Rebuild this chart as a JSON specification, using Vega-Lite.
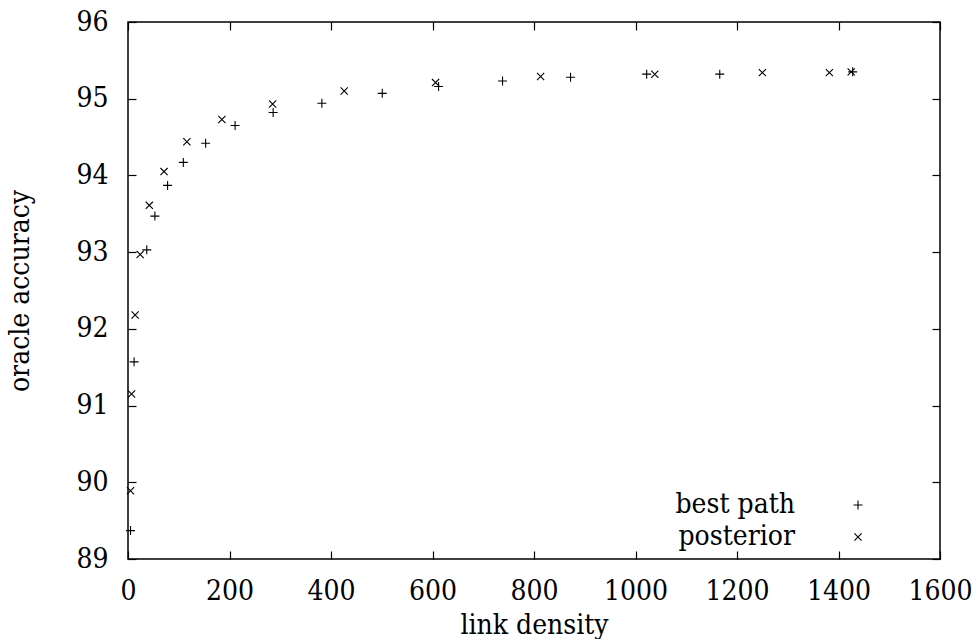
{
  "$schema": "https://vega.github.io/schema/vega-lite/v6.json",
  "width": 812,
  "height": 537,
  "autosize": {"type": "none"},
  "padding": {"left": 128, "top": 22, "right": 35, "bottom": 80},
  "background": "white",
  "config": {
    "font": "DejaVu Serif Condensed",
    "view": {"stroke": "black", "strokeWidth": 1.5},
    "axis": {
      "grid": false,
      "domain": false,
      "tickColor": "black",
      "tickSize": -8,
      "tickWidth": 1.2,
      "labelColor": "black",
      "labelFont": "DejaVu Serif Condensed",
      "labelFontSize": 28,
      "labelFlush": false,
      "labelOverlap": false,
      "titleFont": "DejaVu Serif Condensed",
      "titleFontSize": 28,
      "titleFontWeight": "normal",
      "titleColor": "black"
    },
    "legend": {
      "labelFont": "DejaVu Serif Condensed"
    }
  },
  "data": {
    "values": [
      {"density": 5, "accuracy": 89.37, "series": "best path"},
      {"density": 12, "accuracy": 91.57, "series": "best path"},
      {"density": 37, "accuracy": 93.03, "series": "best path"},
      {"density": 53, "accuracy": 93.47, "series": "best path"},
      {"density": 78, "accuracy": 93.87, "series": "best path"},
      {"density": 109, "accuracy": 94.17, "series": "best path"},
      {"density": 153, "accuracy": 94.42, "series": "best path"},
      {"density": 211, "accuracy": 94.65, "series": "best path"},
      {"density": 286, "accuracy": 94.82, "series": "best path"},
      {"density": 382, "accuracy": 94.94, "series": "best path"},
      {"density": 501, "accuracy": 95.07, "series": "best path"},
      {"density": 612, "accuracy": 95.16, "series": "best path"},
      {"density": 738, "accuracy": 95.23, "series": "best path"},
      {"density": 872, "accuracy": 95.28, "series": "best path"},
      {"density": 1022, "accuracy": 95.32, "series": "best path"},
      {"density": 1166, "accuracy": 95.32, "series": "best path"},
      {"density": 1428, "accuracy": 95.35, "series": "best path"},
      {"density": 5, "accuracy": 89.89, "series": "posterior"},
      {"density": 7, "accuracy": 91.15, "series": "posterior"},
      {"density": 14, "accuracy": 92.18, "series": "posterior"},
      {"density": 24, "accuracy": 92.97, "series": "posterior"},
      {"density": 42, "accuracy": 93.61, "series": "posterior"},
      {"density": 71, "accuracy": 94.05, "series": "posterior"},
      {"density": 116, "accuracy": 94.44, "series": "posterior"},
      {"density": 185, "accuracy": 94.73, "series": "posterior"},
      {"density": 285, "accuracy": 94.93, "series": "posterior"},
      {"density": 426, "accuracy": 95.10, "series": "posterior"},
      {"density": 606, "accuracy": 95.21, "series": "posterior"},
      {"density": 813, "accuracy": 95.29, "series": "posterior"},
      {"density": 1038, "accuracy": 95.32, "series": "posterior"},
      {"density": 1250, "accuracy": 95.34, "series": "posterior"},
      {"density": 1382, "accuracy": 95.34, "series": "posterior"},
      {"density": 1425, "accuracy": 95.35, "series": "posterior"}
    ]
  },
  "layer": [
    {
      "mark": {"type": "point", "filled": false, "stroke": "black", "strokeWidth": 1.1, "size": 81, "opacity": 1},
      "encoding": {
        "x": {
          "field": "density", "type": "quantitative",
          "scale": {"domain": [0, 1600], "nice": false, "zero": false},
          "axis": {"orient": "bottom", "values": [0, 200, 400, 600, 800, 1000, 1200, 1400, 1600], "format": "d", "title": "link density", "labelPadding": 26, "titlePadding": 6}
        },
        "y": {
          "field": "accuracy", "type": "quantitative",
          "scale": {"domain": [89, 96], "nice": false, "zero": false},
          "axis": {"orient": "left", "values": [89, 90, 91, 92, 93, 94, 95, 96], "format": "d", "title": "oracle accuracy", "labelPadding": 28, "titlePadding": 41}
        },
        "shape": {
          "field": "series", "type": "nominal",
          "scale": {"domain": ["best path", "posterior"], "range": ["M-1,0L1,0M0,-1L0,1", "M-0.8,-0.8L0.8,0.8M-0.8,0.8L0.8,-0.8"]},
          "legend": {
            "title": null,
            "orient": "none",
            "legendX": 716,
            "legendY": 469,
            "labelAlign": "right",
            "labelOffset": -77,
            "labelFontSize": 28,
            "labelColor": "black",
            "symbolStrokeColor": "black",
            "symbolFillColor": "transparent",
            "symbolStrokeWidth": 1.1,
            "symbolSize": 81,
            "rowPadding": 4
          }
        }
      }
    },
    {
      "mark": {"type": "point", "opacity": 0},
      "encoding": {
        "x": {
          "field": "density", "type": "quantitative",
          "scale": {"domain": [0, 1600], "nice": false, "zero": false},
          "axis": {"orient": "top", "values": [0, 200, 400, 600, 800, 1000, 1200, 1400, 1600], "labels": false, "title": null}
        },
        "y": {
          "field": "accuracy", "type": "quantitative",
          "scale": {"domain": [89, 96], "nice": false, "zero": false},
          "axis": {"orient": "right", "values": [89, 90, 91, 92, 93, 94, 95, 96], "labels": false, "title": null}
        }
      }
    }
  ],
  "resolve": {"axis": {"x": "independent", "y": "independent"}}
}
